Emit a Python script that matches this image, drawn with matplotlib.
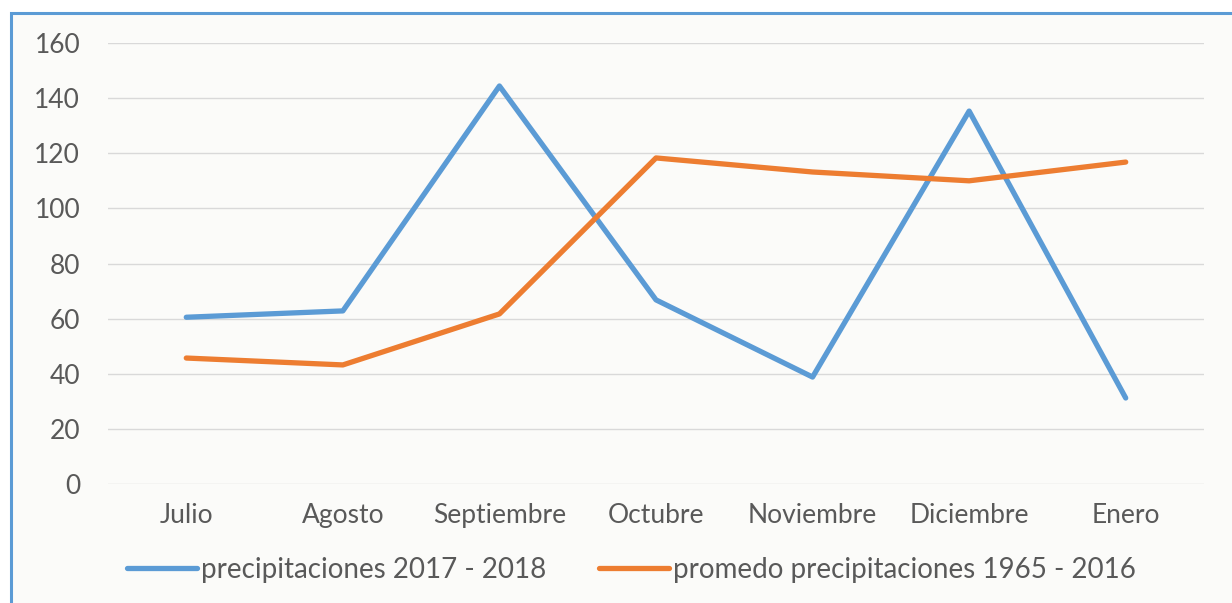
import matplotlib.pyplot as plt
from matplotlib.patches import Rectangle

meses = ["Julio", "Agosto", "Septiembre", "Octubre", "Noviembre", "Diciembre", "Enero"]
precip_2017_2018 = [60.5, 62.8, 144.4, 66.8, 38.8, 135.3, 31.2]
promedio_1965_2016 = [45.7, 43.2, 61.7, 118.3, 113.2, 110.0, 116.8]
y_ticks = [0, 20, 40, 60, 80, 100, 120, 140, 160]

azul = "#5b9bd5"
naranja = "#ed7d31"
gris = "#595959"
fuente = ["Lato", "DejaVu Sans"]

fig = plt.figure(figsize=(12.32, 6.03), dpi=100)
fig.patch.set_facecolor("white")
fig.patches.append(Rectangle((11 / 1232, -0.05), 1.2, 1 - 13 / 603 + 0.05,
                             transform=fig.transFigure, facecolor="#fbfbf9",
                             edgecolor=azul, linewidth=2.2, zorder=-1))

ax = fig.add_axes([108 / 1232, 1 - 484 / 603, (1204 - 108) / 1232, (484 - 43) / 603])
ax.set_zorder(2)
ax.set_facecolor("none")
x = range(len(meses))
ax.plot(x, precip_2017_2018, color=azul, linewidth=3.8, label="precipitaciones 2017 - 2018",
        solid_capstyle="round", solid_joinstyle="round")
ax.plot(x, promedio_1965_2016, color=naranja, linewidth=3.8, label="promedo precipitaciones 1965 - 2016",
        solid_capstyle="round", solid_joinstyle="round")

ax.set_xlim(-0.5, len(meses) - 0.5)
ax.set_ylim(0, 160)
ax.set_yticks(y_ticks)
ax.set_xticks(list(x))
ax.set_xticklabels(meses)
ax.grid(axis="y", color="#d9d9d9", linewidth=1)
ax.set_axisbelow(True)
for s in ax.spines.values():
    s.set_visible(False)
ax.tick_params(length=0, colors=gris, labelsize=19)
ax.tick_params(axis="y", pad=20)
ax.tick_params(axis="x", pad=14)
for lab in ax.get_xticklabels() + ax.get_yticklabels():
    lab.set_fontfamily(fuente)

leg = fig.legend(loc="center", bbox_to_anchor=(0.5126, 1 - 570 / 603), ncol=2, frameon=False,
                 prop={"family": fuente, "size": 20},
                 handlelength=2.5, handletextpad=0.15, columnspacing=1.9)
for t in leg.get_texts():
    t.set_color(gris)

plt.savefig("out.png", dpi=100)
